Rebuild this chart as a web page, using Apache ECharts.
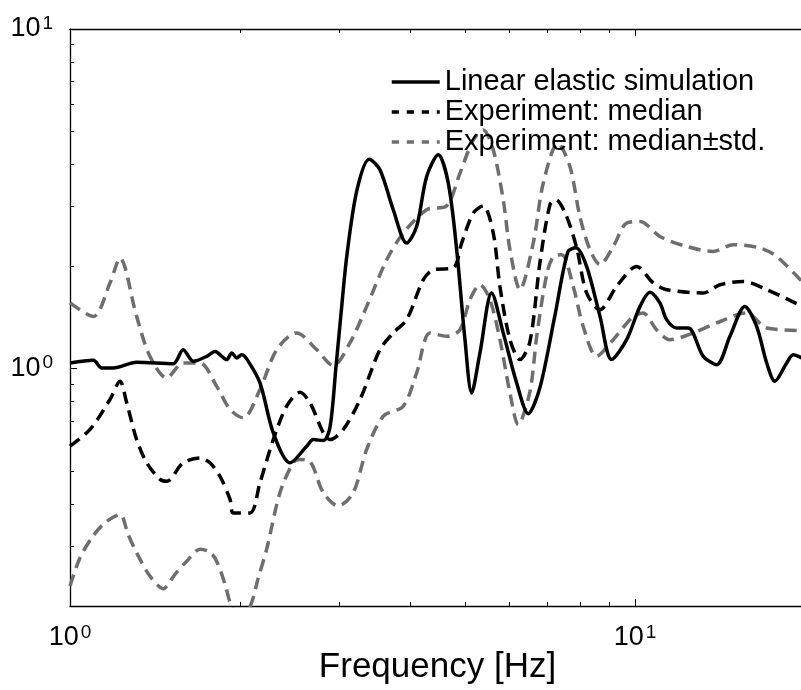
<!DOCTYPE html>
<html><head><meta charset="utf-8">
<script src="https://cdn.jsdelivr.net/npm/echarts@6/dist/echarts.min.js"></script>
<style>html,body{margin:0;padding:0;background:#fff}#c{width:801px;height:690px}</style>
</head><body><div id="c"></div>
<script>
// ---- data ----
const legendNames = ['Linear elastic simulation', 'Experiment: median', 'Experiment: median\u00b1std.'];
const xName = 'Frequency [Hz]';

const simFreq = [1.000,1.100,1.138,1.193,1.312,1.523,1.586,1.653,1.746,1.806,1.894,1.933,1.973,2.013,2.055,2.169,2.290,2.452,2.624,2.696,2.808,2.885,2.957,3.017,3.092,3.221,3.386,3.537,3.734,3.944,4.108,4.279,4.486,4.673,4.836,5.002,5.140,5.317,5.576,5.846,6.174,6.473,6.789,7.216,7.609,7.861,8.212,8.673,9.095,9.668,10.21,10.63,11.07,11.38,11.85,12.43,13.21,13.95,14.73,15.65,16.42,17.11,17.69,18.56,19.06,20.0];
const simVal  = [1.039,1.058,1.005,1.005,1.044,1.034,1.137,1.051,1.087,1.124,1.063,1.112,1.075,1.099,1.068,0.908,0.647,0.528,0.591,0.618,0.614,0.671,1.014,1.442,2.164,3.361,4.138,3.849,2.936,2.343,2.622,3.679,4.260,3.517,2.239,1.217,0.848,1.112,1.670,1.274,0.908,0.737,0.879,1.432,2.208,2.269,2.000,1.425,1.063,1.217,1.525,1.677,1.561,1.394,1.317,1.317,1.087,1.027,1.245,1.525,1.331,1.039,0.918,1.039,1.099,1.063];

const medFreq = [1.000,1.085,1.177,1.226,1.260,1.312,1.367,1.443,1.483,1.586,1.699,1.769,1.843,1.920,1.946,2.083,2.169,2.290,2.418,2.553,2.660,2.808,2.885,3.046,3.261,3.537,3.734,3.944,4.220,4.396,4.769,4.935,5.174,5.389,5.613,5.768,6.009,6.258,6.518,6.789,7.071,7.246,7.548,7.885,8.212,8.673,9.281,10.07,10.78,11.38,13.21,14.14,15.55,17.11,20.0];
const medVal  = [0.591,0.662,0.811,0.918,0.793,0.618,0.528,0.472,0.466,0.528,0.546,0.528,0.482,0.412,0.376,0.376,0.461,0.618,0.775,0.852,0.793,0.647,0.618,0.662,0.811,1.137,1.274,1.394,1.827,1.955,1.978,2.343,2.871,3.016,2.507,1.746,1.217,1.063,1.200,2.050,3.036,3.141,2.838,2.270,1.670,1.491,1.746,2.000,1.787,1.708,1.670,1.766,1.806,1.708,1.512];

const upFreq = [1.000,1.100,1.177,1.226,1.312,1.385,1.483,1.586,1.699,1.818,1.920,2.026,2.169,2.322,2.519,2.733,2.924,3.130,3.351,3.636,3.890,4.279,4.643,4.901,5.174,5.389,5.613,5.846,6.009,6.258,6.607,6.882,7.306,7.672,7.990,8.324,8.673,9.154,9.668,10.21,11.07,12.35,13.76,14.93,16.64,17.81,20.0];
const upVal  = [1.561,1.425,1.787,2.116,1.425,1.087,0.939,1.039,1.039,0.887,0.758,0.716,0.868,1.137,1.274,1.137,1.021,1.190,1.525,2.092,2.507,2.936,3.016,3.763,4.716,5.046,4.407,3.141,2.239,1.708,2.343,3.517,4.612,3.936,2.805,2.239,2.023,2.289,2.683,2.712,2.450,2.289,2.213,2.316,2.265,2.140,1.766];

const loFreq = [1.000,1.042,1.098,1.153,1.226,1.267,1.312,1.385,1.463,1.534,1.609,1.699,1.769,1.818,1.881,1.920,2.000,2.097,2.151,2.229,2.353,2.485,2.553,2.660,2.808,2.985,3.172,3.351,3.585,3.890,4.108,4.337,4.643,4.901,5.105,5.317,5.538,5.768,6.009,6.215,6.518,6.707,6.978,7.167,7.419,7.776,8.100,8.556,9.154,9.931,10.34,10.92,11.53,12.69,13.95,15.76,17.11,20.0];
const loVal  = [0.229,0.278,0.321,0.352,0.372,0.325,0.287,0.245,0.225,0.248,0.271,0.294,0.288,0.271,0.232,0.205,0.177,0.205,0.240,0.294,0.431,0.529,0.540,0.533,0.431,0.394,0.431,0.578,0.724,0.775,0.971,1.274,1.245,1.302,1.596,1.766,1.596,1.217,0.848,0.684,0.856,1.259,1.890,2.135,2.164,1.746,1.331,1.087,1.217,1.425,1.458,1.302,1.217,1.274,1.363,1.458,1.317,1.294];

const xRange = [1, 20];
const yRange = [0.2, 10];
const xMajorTicks = [1, 10];
const xMinorTicks = [2, 3, 4, 5, 6, 7, 8, 9, 20];
const yMajorTicks = [1, 10];
const yMinorTicks = [0.2, 0.3, 0.4, 0.5, 0.6, 0.7, 0.8, 0.9, 2, 3, 4, 5, 6, 7, 8, 9];

// ---- chart ----
const FONT = '"Liberation Sans", Arial, Helvetica, sans-serif';
const GRAY = '#6e6e6e';
const DASH = [12, 7];
const LEGEND_DASH = [7.3, 7.7];
const toPairs = (xs, ys) => xs.map((x, i) => [x, ys[i]]);
const supLabel = v => '{b|10}{s|' + Math.round(Math.log10(v)) + '}';
const rich = {
  b: { fontSize: 27, fontFamily: FONT, color: '#000', lineHeight: 30 },
  s: { fontSize: 19, fontFamily: FONT, color: '#000', lineHeight: 19, verticalAlign: 'top', padding: [0, 0, 0, 2] }
};

function xAx(pos, major) {
  const lab = major && pos === 'bottom';
  return {
    type: 'log', logBase: 10, min: xRange[0], max: xRange[1], position: pos, gridIndex: 0,
    axisLine: { show: major, onZero: false, lineStyle: { color: '#000', width: 1.3 } },
    axisTick: { show: true, inside: true, length: major ? 7 : 4, customValues: major ? xMajorTicks : xMinorTicks,
                lineStyle: { color: '#000', width: 1 } },
    axisLabel: { show: lab, customValues: xMajorTicks, formatter: supLabel, rich: rich, margin: 17 },
    splitLine: { show: false }, minorTick: { show: false },
    name: lab ? xName : '', nameLocation: 'middle', nameGap: 44, nameMoveOverlap: false,
    nameTextStyle: { fontSize: 35, fontFamily: FONT, color: '#000' }
  };
}
function yAx(major) {
  return {
    type: 'log', logBase: 10, min: yRange[0], max: yRange[1], position: 'left', gridIndex: 0,
    axisLine: { show: major, onZero: false, lineStyle: { color: '#000', width: 1.3 } },
    axisTick: { show: true, inside: true, length: major ? 7 : 4, customValues: major ? yMajorTicks : yMinorTicks,
                lineStyle: { color: '#000', width: 1 } },
    axisLabel: { show: major, customValues: yMajorTicks, formatter: supLabel, rich: rich, margin: 17 },
    splitLine: { show: false }, minorTick: { show: false }
  };
}

const chart = echarts.init(document.getElementById('c'), null, { renderer: 'canvas' });
chart.setOption({
  animation: false,
  backgroundColor: '#fff',
  grid: { left: 70, top: 29, width: 735, height: 577, containLabel: false, outerBoundsMode: 'none' },
  xAxis: [xAx('bottom', true), xAx('bottom', false), xAx('top', true), xAx('top', false)],
  yAxis: [yAx(true), yAx(false)],
  legend: {
    orient: 'vertical', left: 385, top: 62, itemWidth: 48, itemHeight: 14, itemGap: 0,
    selectedMode: false,
    textStyle: { fontSize: 29, fontFamily: FONT, color: '#000', lineHeight: 30 },
    itemStyle: { color: 'rgba(0,0,0,0)', borderColor: 'rgba(0,0,0,0)', borderWidth: 0, opacity: 0 },
    lineStyle: { width: 3.5 },
    data: [
      { name: legendNames[0], lineStyle: { type: 'solid', width: 3.5 } },
      { name: legendNames[1], lineStyle: { type: LEGEND_DASH, width: 3.5 } },
      { name: legendNames[2], lineStyle: { type: LEGEND_DASH, width: 3.5 } }
    ]
  },
  series: [
    { type: 'line', name: legendNames[2], data: toPairs(upFreq, upVal), symbol: 'none', smooth: 0.3, clip: true,
      lineStyle: { color: GRAY, width: 3.5, type: DASH }, itemStyle: { color: GRAY }, z: 2 },
    { type: 'line', name: legendNames[2], data: toPairs(loFreq, loVal), symbol: 'none', smooth: 0.3, clip: true,
      lineStyle: { color: GRAY, width: 3.5, type: DASH }, itemStyle: { color: GRAY }, z: 2 },
    { type: 'line', name: legendNames[1], data: toPairs(medFreq, medVal), symbol: 'none', smooth: 0.3, clip: true,
      lineStyle: { color: '#000', width: 3.5, type: DASH }, itemStyle: { color: '#000' }, z: 3 },
    { type: 'line', name: legendNames[0], data: toPairs(simFreq, simVal), symbol: 'none', smooth: 0.3, clip: true,
      lineStyle: { color: '#000', width: 3.5, type: 'solid' }, itemStyle: { color: '#000' }, z: 4 }
  ]
});
</script></body></html>
